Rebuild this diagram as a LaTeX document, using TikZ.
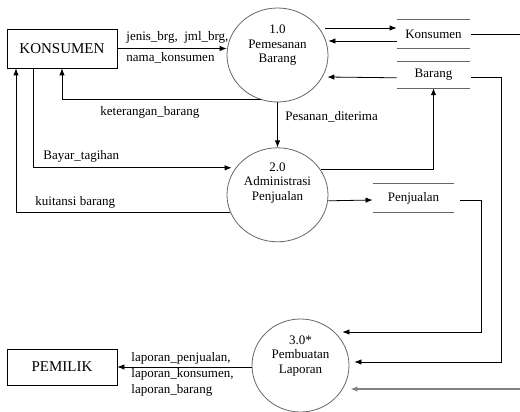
\documentclass[tikz,border=0pt]{standalone}
\usepackage{fontspec}
\setmainfont{Liberation Serif}
\usetikzlibrary{positioning}
\usetikzlibrary{shapes.geometric}
\usetikzlibrary{arrows.meta}

\begin{document}
\begin{tikzpicture}[x=1pt, y=-1pt, -, >={Latex[length=7pt,width=5.5pt]}, line width=0.8pt,
every label/.style={font=\fontsize{13}{14.5}\selectfont, align=center, inner sep=0pt},
	entity/.style={draw=black, rectangle, minimum width=110pt, font=\fontsize{15}{18}\selectfont},
	process/.style={draw=black!60, ellipse, minimum width=101pt, minimum height=94pt, inner sep=0pt},
	store/.style={minimum width=73pt, minimum height=28pt, inner sep=0pt, font=\fontsize{13}{15}\selectfont,
	  append after command={(\tikzlastnode.north west) edge[draw=black!60] (\tikzlastnode.north east)
	    (\tikzlastnode.south west) edge[draw=black!60] (\tikzlastnode.south east)}},
	flow/.style={font=\fontsize{13}{16}\selectfont, inner sep=0pt, anchor=base west, align=left}]

  \useasboundingbox (0,0) rectangle (520,412);

  \node[entity, minimum height=39pt] (konsumen) at (62,48.5) {KONSUMEN};
  \node[entity, minimum height=36pt] (pemilik) at (62,367) {PEMILIK};
  \node[process, label={[yshift=9.5pt]center:1.0\\Pemesanan\\Barang}] (p1) at (277.5,55) {};
  \node[process, label={[yshift=12pt]center:2.0\\Administrasi\\Penjualan}] (p2) [below=45pt of p1] {};
  \node[process, minimum width=97pt, minimum height=93pt, label={[yshift=9.5pt]center:3.0*\\Pembuatan\\Laporan}] (p3) at (300.5,365.5) {};
  \node[store] (ks) at (433.5,34) {Konsumen};
  \node[store, minimum height=26pt] (br) [below=13pt of ks] {\raisebox{-2pt}{Barang}};
  \node[store, minimum width=81pt] (pj) at (413.5,198) {Penjualan};

  \coordinate (ksout) at (520,34);
  \coordinate (p3in) at (520,389);
  \coordinate (brturn) at (501,362);
  \coordinate (pjturn) at (481,332);

  \draw[->] (konsumen.east) -- (konsumen.east -| p1.west);
  \draw[->] (p1.250) -| (konsumen.south);
  \draw[->] (p1.south) -- (p2.north);
  \draw[->] ([xshift=-29pt]konsumen.south) |- ([xshift=5pt,yshift=27pt]p2.west);
  \draw[->] (p2.200) -| ([xshift=-46pt]konsumen.south);
  \draw[->] ([xshift=-3pt,yshift=27pt]p1.east) -- ([yshift=6pt]ks.west);
  \draw[->] ([yshift=-7pt]ks.west) -- ([yshift=14pt]p1.east);
  \draw[->] ([yshift=-3pt]br.west) -- ([xshift=-1pt,yshift=-22pt]p1.east);
  \draw[->] (p2.30) -| (br.south);
  \draw[->] ([yshift=-6pt]p2.east) -- ([yshift=-2pt]pj.west);
  \draw[->] ([xshift=6pt,yshift=-2pt]pj.east) -| (pjturn) -- ([xshift=-7pt,yshift=33.5pt]p3.east);
  \draw[->] ([xshift=1pt,yshift=-3pt]br.east) -| (brturn) -- ([xshift=5pt,yshift=3.5pt]p3.east);
  \draw ([xshift=1pt]ks.east) -- (ksout);
  \draw[->, line width=1.8pt, draw=black!50] (p3in) -- ([xshift=1pt,yshift=-23.5pt]p3.east);
  \draw[->] (p3.west |- pemilik.east) -- (pemilik.east);

  \node[flow] (ljenis) at (126,41) {jenis\_brg,\ \ jml\_brg,};
  \node[flow] (lnama) at (126,62) {nama\_konsumen};
  \node[flow] (lket) at (100,116) {keterangan\_barang};
  \node[flow] (lpesan) at (285,121) {Pesanan\_diterima};
  \node[flow] (lbayar) at (43,159) {Bayar\_tagihan};
  \node[flow] (lkuit) at (35,205) {kuitansi barang};
  \node[flow] (llap) at (131,393) {laporan\_penjualan,\\laporan\_konsumen,\\laporan\_barang};
\end{tikzpicture}
\end{document}
